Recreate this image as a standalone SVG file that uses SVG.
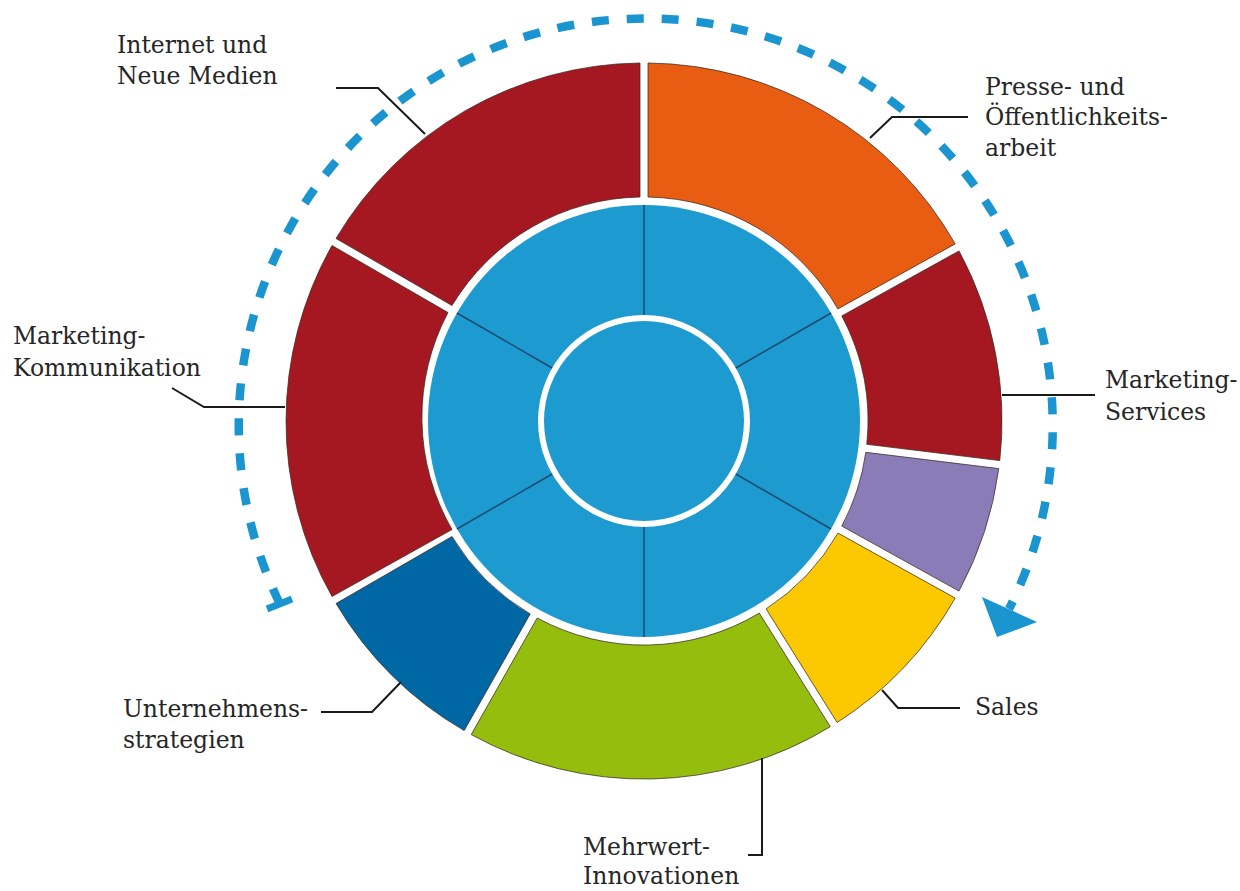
<svg xmlns="http://www.w3.org/2000/svg" width="1240" height="891" viewBox="0 0 1240 891">
<style>
.seg{stroke:#3a2a20;stroke-opacity:0.75;stroke-width:1}
.lbl{font-family:"DejaVu Serif","Liberation Serif",serif;font-size:23.5px;fill:#262626}
.lead{fill:none;stroke:#1a1a1a;stroke-width:2}
.div{stroke:#1b4a70;stroke-width:1.5}
</style>
<rect width="1240" height="891" fill="#ffffff"/>
<g id="cycle">
<path d="M280 604 A407 407 0 1 1 1009 609" fill="none" stroke="#1b95d0" stroke-width="8.5" stroke-dasharray="17 18"/>
<line x1="267" y1="609" x2="292" y2="599" stroke="#1b95d0" stroke-width="7"/>
<polygon points="982,597 1037,622 997,637" fill="#1b95d0"/>
</g>
<g id="core">
<circle cx="644" cy="421" r="216" fill="#1d9acf"/>
<line class="div" x1="644" y1="317" x2="644" y2="205"/>
<line class="div" x1="734.1" y1="369" x2="831.1" y2="313"/>
<line class="div" x1="734.1" y1="473" x2="831.1" y2="529"/>
<line class="div" x1="644" y1="525" x2="644" y2="637"/>
<line class="div" x1="553.9" y1="473" x2="456.9" y2="529"/>
<line class="div" x1="553.9" y1="369" x2="456.9" y2="313"/>
<circle cx="644" cy="421" r="103" fill="#1d9acf" stroke="#ffffff" stroke-width="6"/>
</g>
<g id="presse">
<path class="seg" fill="#e85d12" d="M648 63 A358 358 0 0 1 955.2 243.9 L837.9 308.9 A224 224 0 0 0 648 197 Z"/>
<text class="lbl" x="985" y="95">Presse- und</text>
<text class="lbl" x="985" y="125">Öffentlichkeits-</text>
<text class="lbl" x="985" y="156">arbeit</text>
</g>
<g id="marketing-services">
<path class="seg" fill="#a51822" d="M959 250.9 A358 358 0 0 1 999.8 460.6 L866.8 444.3 A224 224 0 0 0 841.8 315.9 Z"/>
<text class="lbl" x="1105" y="388">Marketing-</text>
<text class="lbl" x="1105" y="420">Services</text>
</g>
<g id="purple">
<path class="seg" fill="#8a7cb6" d="M998.8 468.6 A358 358 0 0 1 959 591.1 L841.8 526.1 A224 224 0 0 0 865.8 452.3 Z"/>
</g>
<g id="sales">
<path class="seg" fill="#fcc800" d="M955.2 598.1 A358 358 0 0 1 837.1 722.5 L766.1 608.9 A224 224 0 0 0 838 533.1 Z"/>
<text class="lbl" x="975" y="715">Sales</text>
</g>
<g id="mehrwert">
<path class="seg" fill="#95bd0e" d="M830.3 726.7 A358 358 0 0 1 471.2 734.6 L537.2 618 A224 224 0 0 0 759.3 613.1 Z"/>
<text class="lbl" x="583" y="855">Mehrwert-</text>
<text class="lbl" x="583" y="884">Innovationen</text>
</g>
<g id="unternehmen">
<path class="seg" fill="#0067a5" d="M464.2 730.6 A358 358 0 0 1 336 603.5 L452 536.5 A224 224 0 0 0 530.2 614 Z"/>
<text class="lbl" x="123" y="717">Unternehmens-</text>
<text class="lbl" x="123" y="748">strategien</text>
</g>
<g id="marketing-kommunikation">
<path class="seg" fill="#a51822" d="M332 596.5 A358 358 0 0 1 332 245.5 L448 312.5 A224 224 0 0 0 452 529.5 Z"/>
<text class="lbl" x="13" y="344">Marketing-</text>
<text class="lbl" x="13" y="376">Kommunikation</text>
</g>
<g id="internet">
<path class="seg" fill="#a51822" d="M336 238.5 A358 358 0 0 1 640 63 L640 197 A224 224 0 0 0 452 305.5 Z"/>
<text class="lbl" x="117" y="53">Internet und</text>
<text class="lbl" x="117" y="84">Neue Medien</text>
</g>
<g id="connectors">
<polyline class="lead" points="336,88 378,88 425,134"/>
<polyline class="lead" points="968,117 892,117 870,138"/>
<polyline class="lead" points="172,388 204,407 285,407"/>
<polyline class="lead" points="1002,395 1095,395"/>
<polyline class="lead" points="321,712 372,712 401,682"/>
<polyline class="lead" points="882,690 898,708 960,708"/>
<polyline class="lead" points="762,758 762,855 748,855"/>
</g>
</svg>
